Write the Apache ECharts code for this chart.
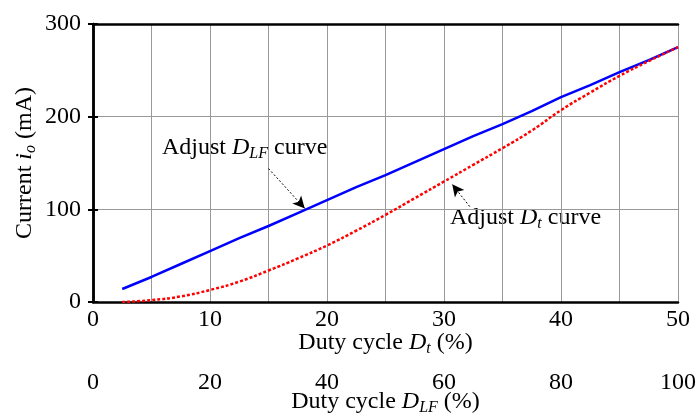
<!DOCTYPE html>
<html>
<head>
<meta charset="utf-8">
<script src="https://cdn.jsdelivr.net/npm/echarts@6/dist/echarts.min.js"></script>
<style>
html, body { margin: 0; padding: 0; background: #fff; }
#chart { width: 698px; height: 414px; }
</style>
</head>
<body>
<div id="chart"></div>
<script>
// duty cycle D_t (%) on the main x axis
var dutyT = [2.5, 5, 7.5, 10, 12.5, 15, 17.5, 20, 22.5, 25, 27.5, 30, 32.5, 35, 37.5, 40, 42.5, 45, 47.5, 50];
// current i_o (mA) when adjusting D_LF
var adjustLF = [14, 27, 41, 55, 69, 82, 96, 110, 124, 137, 151, 165, 179, 192, 206, 221, 234, 248, 261, 275];
// current i_o (mA) when adjusting D_t
var adjustT = [0, 2, 6, 13, 22, 34, 47, 61, 77, 94, 112, 130, 148, 166, 185, 207, 226, 244, 260, 275];
var lfTicks = [0, 20, 40, 60, 80, 100];

var font = '"Liberation Serif", "Times New Roman", serif';
var myChart = echarts.init(document.getElementById('chart'));

function pairs(xs, ys) {
    var out = [];
    for (var i = 0; i < xs.length; i++) out.push([xs[i], ys[i]]);
    return out;
}

var rich = {
    n: { fontFamily: font, fontSize: 24, color: '#000', lineHeight: 26 },
    i: { fontFamily: font, fontSize: 24, fontStyle: 'italic', color: '#000', lineHeight: 26 },
    s: { fontFamily: font, fontSize: 16, fontStyle: 'italic', color: '#000', lineHeight: 26, padding: [12, 0, 0, 0] }
};

option = {
    animation: false,
    grid: { left: 93, right: 20, top: 24, bottom: 112, outerBoundsMode: 'none', containLabel: false },
    xAxis: [
        {
            type: 'value', position: 'bottom', min: 0, max: 50, interval: 5,
            axisLine: { lineStyle: { color: '#000', width: 2.5 } },
            axisTick: { show: false },
            splitLine: { show: true, lineStyle: { color: '#999', width: 1 } },
            axisLabel: {
                fontFamily: font, fontSize: 24, color: '#000', margin: 6,
                formatter: function (v) { return v % 10 === 0 ? v : ''; }
            },
            name: '{n|Duty cycle }{i|D}{s|t}{n| (%)}',
            nameLocation: 'middle', nameGap: 28, nameMoveOverlap: false,
            nameTextStyle: { rich: rich }
        },
        {
            type: 'value', position: 'bottom', offset: 63, min: 0, max: 100, interval: 20,
            axisLine: { show: false }, axisTick: { show: false }, splitLine: { show: false },
            axisLabel: {
                fontFamily: font, fontSize: 24, color: '#000', margin: 6,
                formatter: function (v) { return lfTicks.indexOf(v) >= 0 ? v : ''; }
            },
            name: '{n|Duty cycle }{i|D}{s|LF}{n| (%)}',
            nameLocation: 'middle', nameGap: 24, nameMoveOverlap: false,
            nameTextStyle: { rich: rich }
        },
        {
            type: 'value', position: 'top', min: 0, max: 50,
            axisLine: { lineStyle: { color: '#000', width: 2.5 } },
            axisTick: { show: false }, axisLabel: { show: false }, splitLine: { show: false }
        }
    ],
    yAxis: [
        {
            type: 'value', min: 0, max: 300, interval: 100,
            axisLine: { show: true, lineStyle: { color: '#000', width: 2.5 } },
            axisTick: { show: true, inside: true, length: 5, lineStyle: { color: '#000', width: 2 } },
            splitLine: { show: true, lineStyle: { color: '#999', width: 1 } },
            axisLabel: { fontFamily: font, fontSize: 24, color: '#000', margin: 12 },
            name: '{n|Current }{i|i}{s|o}{n| (mA)}',
            nameLocation: 'middle', nameGap: 55, nameRotate: 90, nameMoveOverlap: false,
            nameTextStyle: { rich: rich }
        },
        {
            type: 'value', position: 'right', min: 0, max: 300, interval: 100,
            axisLine: { show: true, lineStyle: { color: '#000', width: 2.5 } },
            axisTick: { show: true, inside: true, length: 5, lineStyle: { color: '#000', width: 2 } },
            axisLabel: { show: false }, splitLine: { show: false }
        }
    ],
    series: [
        {
            name: 'Adjust DLF', type: 'line', xAxisIndex: 0, yAxisIndex: 0,
            data: pairs(dutyT, adjustLF), showSymbol: false, smooth: false,
            lineStyle: { color: '#0000ff', width: 2.5 },
            markLine: {
                silent: true, symbol: ['none', 'arrow'], symbolSize: [9, 12],
                label: { show: false },
                lineStyle: { color: '#000', width: 1, type: [2, 2] },
                data: [[{ coord: [15.0, 144] }, { coord: [18.1, 101] }]]
            }
        },
        {
            name: 'Adjust Dt', type: 'line', xAxisIndex: 0, yAxisIndex: 0,
            data: pairs(dutyT, adjustT), showSymbol: false, smooth: true,
            lineStyle: { color: '#ff0000', width: 2.5, type: [3, 2] },
            markLine: {
                silent: true, symbol: ['none', 'arrow'], symbolSize: [9, 12],
                label: { show: false },
                lineStyle: { color: '#000', width: 1, type: [2, 2] },
                data: [[{ coord: [32.2, 103] }, { coord: [30.7, 127] }]]
            }
        }
    ],
    graphic: [
        {
            type: 'text', left: 162, top: 134,
            style: { rich: rich, text: '{n|Adjust }{i|D}{s|LF}{n| curve}' }
        },
        {
            type: 'text', left: 450, top: 204,
            style: { rich: rich, text: '{n|Adjust }{i|D}{s|t}{n| curve}' }
        }
    ]
};

myChart.setOption(option);
</script>
</body>
</html>
